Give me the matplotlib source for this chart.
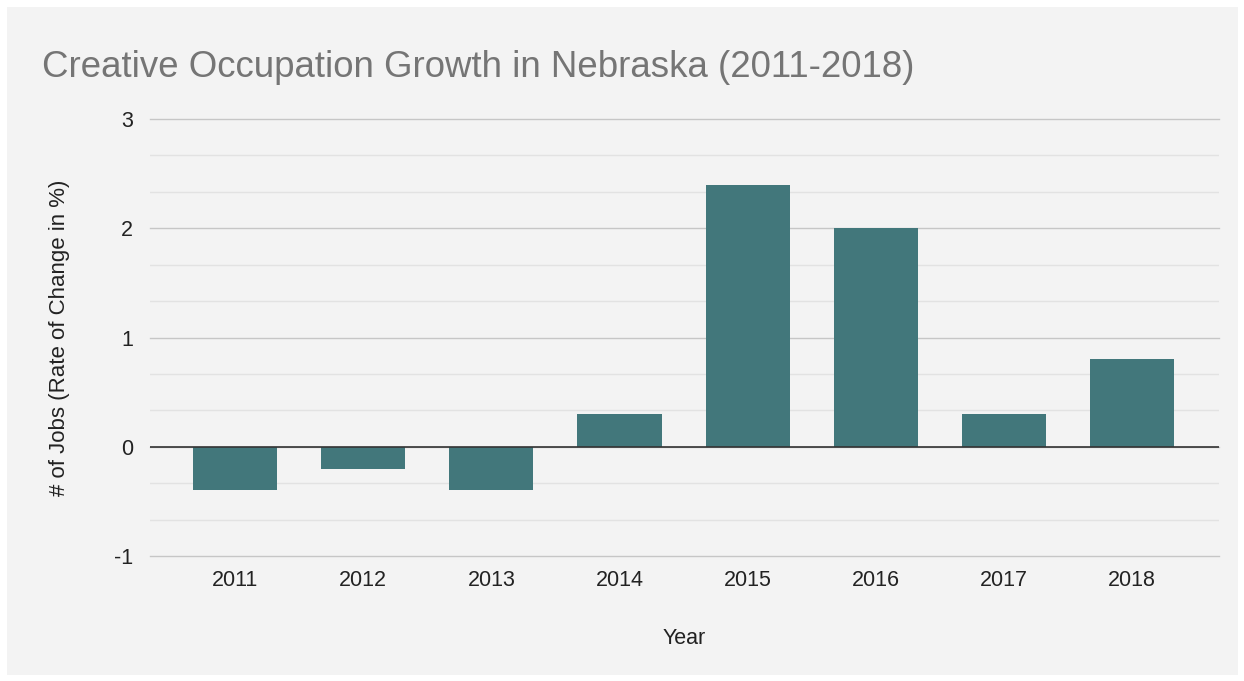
import matplotlib
matplotlib.use("Agg")
import matplotlib.pyplot as plt
from matplotlib.patches import Rectangle
from matplotlib.ticker import MultipleLocator
import numpy as np

years = ["2011", "2012", "2013", "2014", "2015", "2016", "2017", "2018"]
growth = [-0.4, -0.2, -0.4, 0.3, 2.4, 2.0, 0.3, 0.8]

plt.rcParams['font.family'] = ['Liberation Sans', 'DejaVu Sans']
plt.rcParams['axes.unicode_minus'] = False

W, H = 1244, 681
fig = plt.figure(figsize=(W / 100, H / 100), dpi=100)
fig.patch.set_facecolor('white')

# Light grey card behind the chart
fig.patches.append(Rectangle((7 / W, 1 - 675 / H), (1238 - 7) / W, (675 - 7) / H,
                             transform=fig.transFigure, facecolor='#f3f3f3',
                             edgecolor='none', zorder=-5))

ax = fig.add_axes([150 / W, 1 - 556 / H, (1219 - 150) / W, (556 - 119) / H])
ax.set_zorder(2)
ax.set_facecolor('none')

x = np.arange(len(years))
ax.bar(x, growth, width=0.656, color='#42777b', zorder=3)

ax.set_xlim(-0.665, len(years) - 1 + 0.68)
ax.set_ylim(-1, 3)
ax.yaxis.set_major_locator(MultipleLocator(1))
ax.yaxis.set_minor_locator(MultipleLocator(1 / 3))
ax.grid(axis='y', which='major', color='#c6c6c6', linewidth=1, zorder=1)
ax.grid(axis='y', which='minor', color='#e2e2e2', linewidth=1, zorder=1)
for gl in ax.get_ygridlines():
    gl.set_clip_on(False)
ax.axhline(0, color='#333333', linewidth=1.2, zorder=4)

for s in ax.spines.values():
    s.set_visible(False)

ax.set_xticks(x)
ax.set_xticklabels(years)
ax.tick_params(axis='both', which='both', length=0, labelsize=15.5, colors='#222222')
ax.tick_params(axis='x', pad=10)
ax.tick_params(axis='y', pad=12)

ax.set_xlabel("Year", fontsize=15.5, color='#222222', labelpad=27)
ax.set_ylabel("# of Jobs (Rate of Change in %)", fontsize=16, color='#222222', labelpad=32)

fig.text(42 / W, 1 - 77 / H, "Creative Occupation Growth in Nebraska (2011-2018)",
         fontsize=26.4, color='#757575', va='baseline', ha='left')

fig.savefig("out.png", dpi=100)
